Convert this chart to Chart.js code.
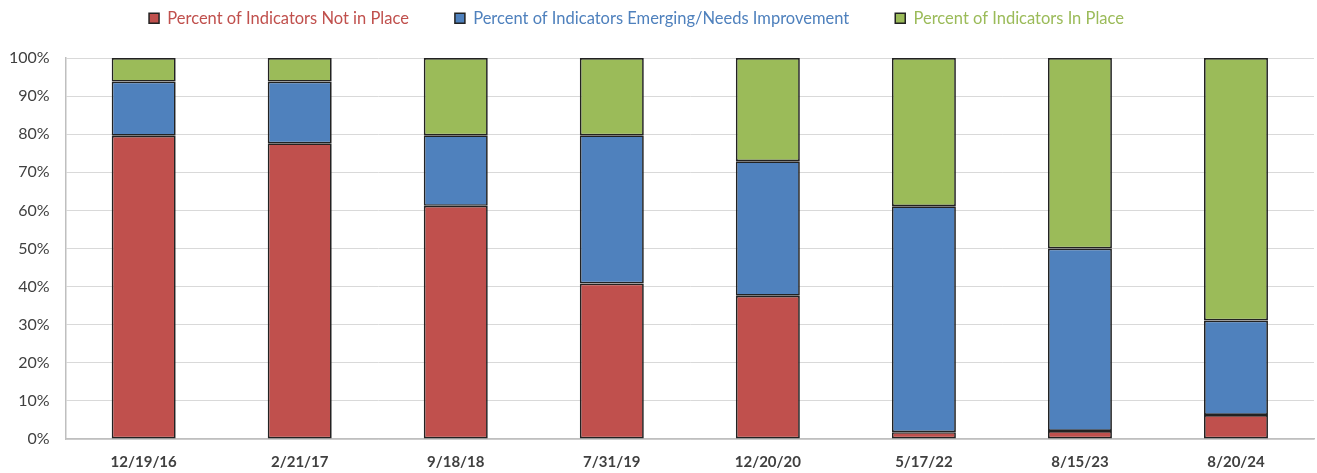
<!DOCTYPE html>
<html>
<head>
<meta charset="utf-8">
<script src="https://cdn.jsdelivr.net/npm/chart.js@4/dist/chart.umd.min.js"></script>
<style>
  body { margin: 0; background: #fff; }
</style>
</head>
<body>
<canvas id="chart" width="1317" height="473"></canvas>
<script>
const categories = ["12/19/16", "2/21/17", "9/18/18", "7/31/19", "12/20/20", "5/17/22", "8/15/23", "8/20/24"];
const notInPlace = [79.6, 77.6, 61.2, 40.8, 37.6, 1.8, 2.1, 6.3];
const emerging = [14.2, 16.2, 18.5, 38.9, 35.3, 59.3, 47.9, 24.8];
const inPlace = [6.2, 6.2, 20.3, 20.3, 27.1, 38.9, 50.0, 68.9];
const seriesNames = [
  "Percent of Indicators Not in Place",
  "Percent of Indicators Emerging/Needs Improvement",
  "Percent of Indicators In Place"
];
const colors = ["#c0504d", "#4f81bd", "#9bbb59"];

// push the plot down a bit below the legend, and nudge the legend left
const legendGap = {
  id: "legendGap",
  beforeInit(chart) {
    const fit = chart.legend.fit;
    chart.legend.fit = function () {
      fit.bind(chart.legend)();
      this.height += 21.5;
      if (this.lineWidths) this.lineWidths[0] += 34;
    };
  }
};

const makeSet = (i, data) => ({
  label: seriesNames[i],
  data: data,
  backgroundColor: colors[i],
  borderColor: "#222",
  borderWidth: 1.7,
  borderSkipped: false,
  barPercentage: 0.41,
  categoryPercentage: 1
});

new Chart(document.getElementById("chart"), {
  type: "bar",
  data: {
    labels: categories,
    datasets: [makeSet(0, notInPlace), makeSet(1, emerging), makeSet(2, inPlace)]
  },
  options: {
    responsive: false,
    animation: false,
    layout: { padding: { top: -36, right: 3, bottom: -4, left: -7 } },
    plugins: {
      tooltip: { enabled: false },
      legend: {
        position: "top",
        labels: {
          boxWidth: 10,
          boxHeight: 10,
          padding: 46,
          font: { family: "Lato", size: 16.5 },
          generateLabels(chart) {
            return chart.data.datasets.map((ds, i) => ({
              text: ds.label,
              fillStyle: ds.backgroundColor,
              strokeStyle: "#222",
              lineWidth: 1.5,
              fontColor: colors[i],
              datasetIndex: i
            }));
          }
        }
      }
    },
    scales: {
      x: {
        stacked: true,
        grid: { display: false },
        border: { color: "#bfbfbf", width: 1.5 },
        ticks: { color: "#404040", padding: 6, font: { family: "Lato", size: 15, weight: "bold" } }
      },
      y: {
        stacked: true,
        min: 0,
        max: 100,
        grid: { color: "#d9d9d9", drawTicks: false },
        border: { color: "#bfbfbf", width: 1.5 },
        ticks: {
          stepSize: 10,
          color: "#404040",
          padding: 16,
          font: { family: "Lato", size: 16 },
          callback: (v) => v + "%"
        }
      }
    }
  },
  plugins: [legendGap]
});
</script>
</body>
</html>
